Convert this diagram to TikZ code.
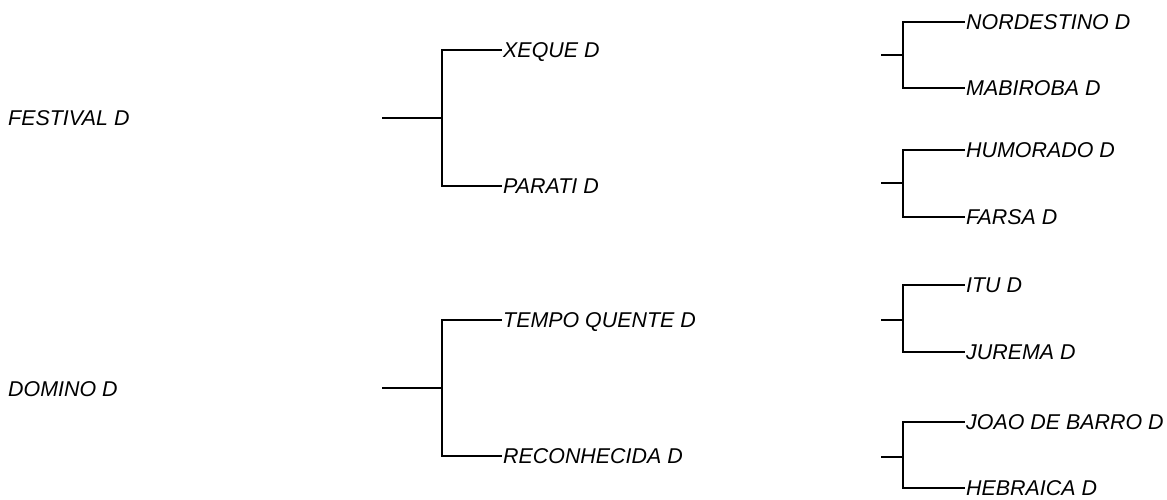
\documentclass[tikz,border=0pt]{standalone}
\usepackage{fontspec}
\setmainfont{Liberation Sans}
\usepackage{tikz}
\usetikzlibrary{positioning}

\begin{document}
\begin{tikzpicture}[
 x=1pt,y=-1pt,
 font=\fontsize{21.4}{25}\selectfont\itshape,
 horse/.style={anchor=west,inner sep=1pt,text height=15.4pt,text depth=0pt},
 link/.style={line width=2.8pt,draw=black}
]
\useasboundingbox (0,0) rectangle (1167,499);

% first generation
\node[horse] (festival) at (7,118) {FESTIVAL D};
\node[horse] (domino) at (7,389) {DOMINO D};

% second generation
\coordinate (s1) at (382,118); \coordinate (j1) at (442,118);
\node[horse] (xeque) at (502,50) {XEQUE D};
\node[horse] (parati) at (502,186) {PARATI D};
\draw[link] (s1) -- (j1) |- (xeque.west);
\draw[link] (j1) |- (parati.west);

\coordinate (s2) at (382,388); \coordinate (j2) at (442,388);
\node[horse] (tempo) at (502,320) {TEMPO QUENTE D};
\node[horse] (recon) at (502,456) {RECONHECIDA D};
\draw[link] (s2) -- (j2) |- (tempo.west);
\draw[link] (j2) |- (recon.west);

% third generation
\coordinate (s3) at (881,55); \coordinate (j3) at (903,55);
\node[horse] (nordestino) at (965,22) {NORDESTINO D};
\node[horse] (mabiroba) at (965,88) {MABIROBA D};
\draw[link] (s3) -- (j3) |- (nordestino.west);
\draw[link] (j3) |- (mabiroba.west);

\coordinate (s4) at (881,183); \coordinate (j4) at (903,183);
\node[horse] (humorado) at (965,150) {HUMORADO D};
\node[horse] (farsa) at (965,217) {FARSA D};
\draw[link] (s4) -- (j4) |- (humorado.west);
\draw[link] (j4) |- (farsa.west);

\coordinate (s5) at (881,320); \coordinate (j5) at (903,320);
\node[horse] (itu) at (965,285) {ITU D};
\node[horse] (jurema) at (965,352) {JUREMA D};
\draw[link] (s5) -- (j5) |- (itu.west);
\draw[link] (j5) |- (jurema.west);

\coordinate (s6) at (881,457); \coordinate (j6) at (903,457);
\node[horse] (joao) at (965,422) {JOAO DE BARRO D};
\node[horse] (hebraica) at (965,488) {HEBRAICA D};
\draw[link] (s6) -- (j6) |- (joao.west);
\draw[link] (j6) |- (hebraica.west);
\end{tikzpicture}
\end{document}
